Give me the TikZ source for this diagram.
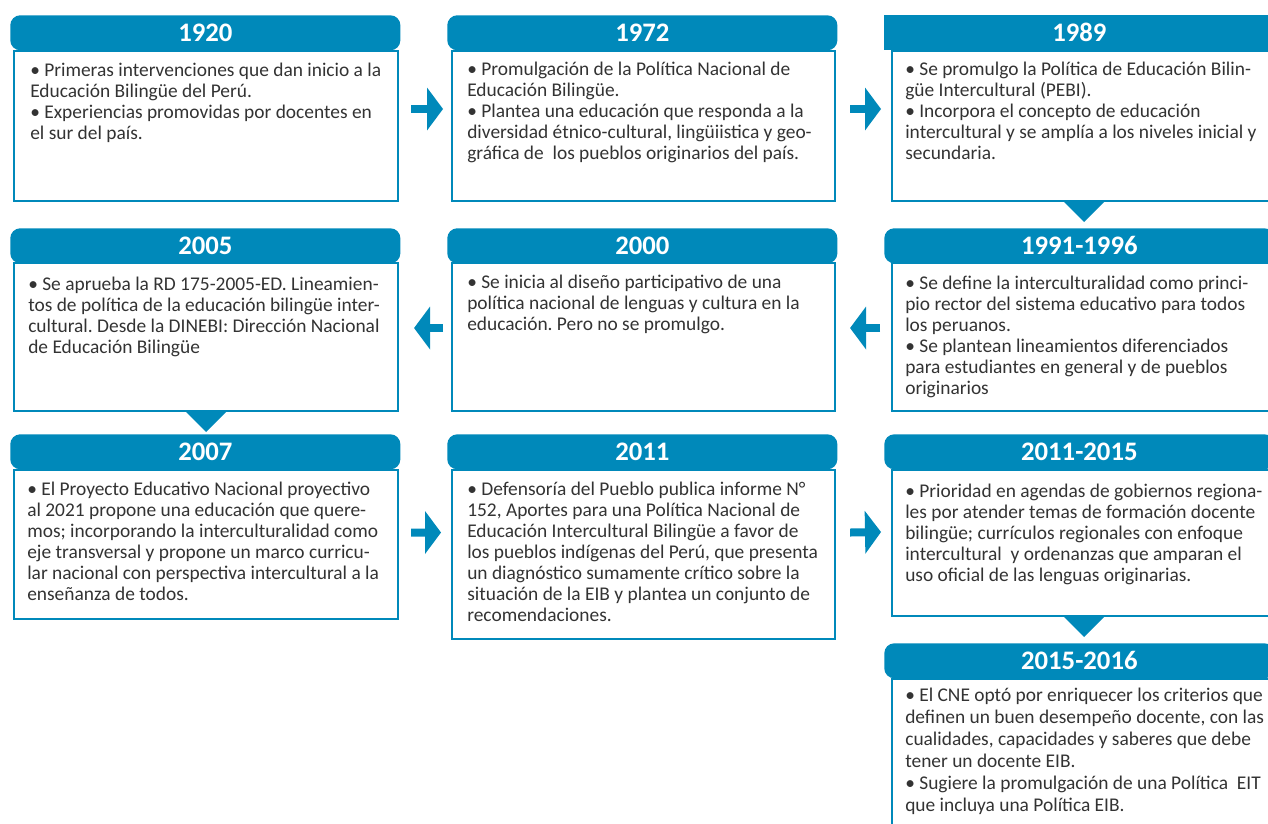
\documentclass[tikz,border=0pt]{standalone}
\usepackage{fontspec}
\setmainfont{Carlito}
\frenchspacing
\usetikzlibrary{arrows.meta}
\definecolor{eib}{RGB}{0,137,186}

\begin{document}
\begin{tikzpicture}[x=0.025cm,y=-0.025cm,
    hdr/.style={fill=eib,rounded corners=0.25cm,anchor=north west,minimum width=9.75cm,minimum height=0.875cm,inner sep=0pt,text=white,font=\bfseries\fontsize{19}{22}\selectfont},
    card/.style={draw=eib,line width=1.4pt,fill=white,anchor=north west,inner sep=0pt},
    txt/.style={anchor=north west,align=left,inner sep=0pt,text=black!80,font=\fontsize{13.8}{14.9}\selectfont,execute at begin node=\strut},
    flow/.style={color=eib,line width=0.2cm,-{Triangle[length=0.4cm,width=1.075cm,line width=0pt]}},
    drop/.style={fill=eib}]
  \useasboundingbox (0,0) rectangle (1268,823);
  \clip (0,0) rectangle (1268,823);

  \node[card,minimum width=9.6cm,minimum height=3.75cm] (b1920) at (13,50) {};
  \node[hdr] (h1920) at (10,15) {1920};
  \node[txt] (t1920) at ([shift={(17,13)}]b1920.north west) {• Primeras intervenciones que dan inicio a la\\Educación Bilingüe del Perú.\\• Experiencias promovidas por docentes en\\el sur del país.};

  \node[card,minimum width=9.575cm,minimum height=3.75cm] (b1972) at (451,50) {};
  \node[hdr] (h1972) at (447,15) {1972};
  \node[txt] (t1972) at ([shift={(16,12)}]b1972.north west) {• Promulgación de la Política Nacional de\\Educación Bilingüe.\\• Plantea una educación que responda a la\\diversidad étnico-cultural, lingüiistica y geo-\\gráfica de~ los pueblos originarios del país.};

  \node[card,minimum width=9.6cm,minimum height=3.75cm] (b1989) at (891,50) {};
  \node[hdr,sharp corners] (h1989) at (884,15) {1989};
  \node[txt] (t1989) at ([shift={(14,12)}]b1989.north west) {• Se promulgo la Política de Educación Bilin-\\güe Intercultural (PEBI).\\• Incorpora el concepto de educación\\intercultural y se amplía a los niveles inicial y\\secundaria.};

  \node[card,minimum width=9.6cm,minimum height=3.7cm] (b1991) at (891,262) {};
  \node[hdr] (h1991) at (884,228) {1991-1996};
  \node[txt] (t1991) at ([shift={(14,14)}]b1991.north west) {• Se define la interculturalidad como princi-\\pio rector del sistema educativo para todos\\los peruanos.\\• Se plantean lineamientos diferenciados\\para estudiantes en general y de pueblos\\originarios};

  \node[card,minimum width=9.575cm,minimum height=3.7cm] (b2000) at (451,262) {};
  \node[hdr] (h2000) at (447,228) {2000};
  \node[txt] (t2000) at ([shift={(16,13)}]b2000.north west) {• Se inicia al diseño participativo de una\\política nacional de lenguas y cultura en la\\educación. Pero no se promulgo.};

  \node[card,minimum width=9.6cm,minimum height=3.7cm] (b2005) at (13,262) {};
  \node[hdr] (h2005) at (10,228) {2005};
  \node[txt] (t2005) at ([shift={(15,15)}]b2005.north west) {• Se aprueba la RD 175-2005-ED. Lineamien-\\tos de política de la educación bilingüe inter-\\cultural. Desde la DINEBI: Dirección Nacional\\de Educación Bilingüe};

  \node[card,minimum width=9.6cm,minimum height=3.725cm] (b2007) at (13,469) {};
  \node[hdr] (h2007) at (10,434) {2007};
  \node[txt] (t2007) at ([shift={(14,13)}]b2007.north west) {• El Proyecto Educativo Nacional proyectivo\\al 2021 propone una educación que quere-\\mos; incorporando la interculturalidad como\\eje transversal y propone un marco curricu-\\lar nacional con perspectiva intercultural a la\\enseñanza de todos.};

  \node[card,minimum width=9.575cm,minimum height=4.225cm] (b2011) at (451,469) {};
  \node[hdr] (h2011) at (447,434) {2011};
  \node[txt] (t2011) at ([shift={(16,13)}]b2011.north west) {• Defensoría del Pueblo publica informe N°\\152, Aportes para una Política Nacional de\\Educación Intercultural Bilingüe a favor de\\los pueblos indígenas del Perú, que presenta\\un diagnóstico sumamente crítico sobre la\\situación de la EIB y plantea un conjunto de\\recomendaciones.};

  \node[card,minimum width=9.6cm,minimum height=3.65cm] (b2015) at (891,469) {};
  \node[hdr] (h2015) at (884,434) {2011-2015};
  \node[txt] (t2015) at ([shift={(14,15)}]b2015.north west) {• Prioridad en agendas de gobiernos regiona-\\les por atender temas de formación docente\\bilingüe; currículos regionales con enfoque\\intercultural~ y ordenanzas que amparan el\\uso oficial de las lenguas originarias.};

  \node[card,minimum width=9.6cm,minimum height=4.05cm] (b2016) at (891,678) {};
  \node[hdr] (h2016) at (884,643) {2015-2016};
  \node[txt,font=\fontsize{13.8}{15.6}\selectfont] (t2016) at ([shift={(14,10)}]b2016.north west) {• El CNE optó por enriquecer los criterios que\\definen un buen desempeño docente, con las\\cualidades, capacidades y saberes que debe\\tener un docente EIB.\\• Sugiere la promulgación de una Política~ EIT\\que incluya una Política EIB.};

  \draw[flow] ([shift={(12,-17)}]b1920.east) -- ([shift={(-8,-17)}]b1972.west);
  \draw[flow] ([shift={(14,-17)}]b1972.east) -- ([shift={(-10,-17)}]b1989.west);
  \draw[flow] ([shift={(-11,-9)}]b1991.west) -- ([shift={(14,-9)}]b2000.east);
  \draw[flow] ([shift={(-8,-9)}]b2000.west) -- ([shift={(15,-9)}]b2005.east);
  \draw[flow] ([shift={(12,-12)}]b2007.east) -- ([shift={(-10,-22)}]b2011.west);
  \draw[flow] ([shift={(14,-22)}]b2011.east) -- ([shift={(-10,-11)}]b2015.west);

  \fill[drop] ([xshift=-0.5cm]b1989.south) -- ([xshift=0.5cm]b1989.south) -- ([yshift=-0.5cm]b1989.south) -- cycle;
  \fill[drop] ([xshift=-0.5cm]b2005.south) -- ([xshift=0.5cm]b2005.south) -- ([yshift=-0.5cm]b2005.south) -- cycle;
  \fill[drop] ([xshift=-0.5cm]b2015.south) -- ([xshift=0.5cm]b2015.south) -- ([yshift=-0.5cm]b2015.south) -- cycle;
\end{tikzpicture}
\end{document}
